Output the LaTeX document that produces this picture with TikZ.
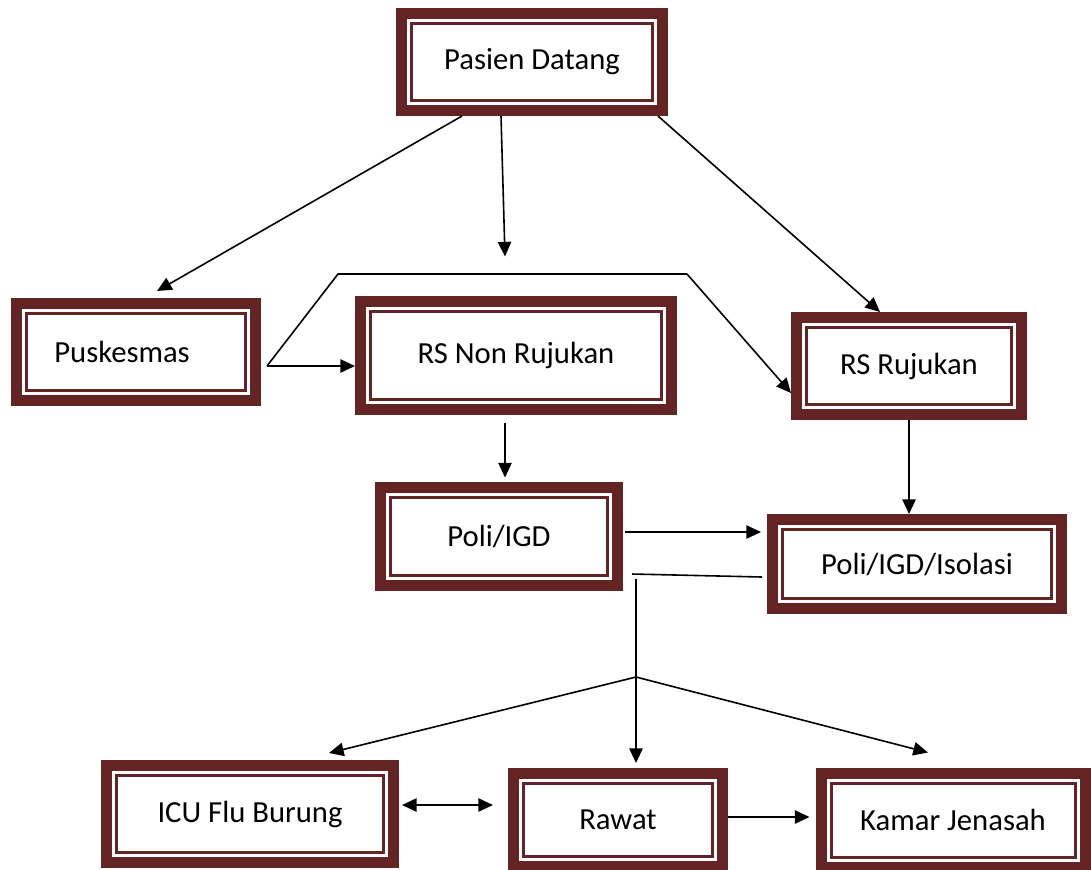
\documentclass[tikz,border=0pt]{standalone}
\usepackage{fontspec}
\setmainfont{Carlito}
\usetikzlibrary{arrows.meta}
\definecolor{framered}{RGB}{99,36,35}
\newcommand{\pxu}{0.75pt}
\tikzset{
	frame/.style={draw=framered, line width=11*\pxu, fill=white, inner sep=0pt,
		font=\fontsize{23}{27}\selectfont,
		path picture={\draw[framered, line width=3*\pxu]
			([shift={(10*\pxu,10*\pxu)}]path picture bounding box.south west) rectangle
			([shift={(-10*\pxu,-10*\pxu)}]path picture bounding box.north east);}},
	link/.style={line width=1.2pt, -{Triangle[length=11pt,width=10pt]}},
	plain/.style={line width=1.2pt}
}

\begin{document}
\begin{tikzpicture}[x=\pxu, y=-\pxu]
			%%%%% START %%%%%
			\useasboundingbox (0,0) rectangle (1091,869);
			
			\node[frame, minimum width=261*\pxu, minimum height=97*\pxu] (pasien) at (532,62) {Pasien Datang};
			\node[frame, minimum width=239*\pxu, minimum height=97*\pxu] (pusk) at (136,352) {Puskesmas\hspace*{21pt}};
			\node[frame, minimum width=311*\pxu, minimum height=108*\pxu] (rsnon) at (516,355) {RS Non Rujukan};
			\node[frame, minimum width=225*\pxu, minimum height=97*\pxu] (rsruj) at (909,366) {RS Rujukan};
			\node[frame, minimum width=237*\pxu, minimum height=98*\pxu] (poli) at (499,536) {Poli/IGD};
			\node[frame, minimum width=289*\pxu, minimum height=89*\pxu] (isolasi) at (917,564) {Poli/IGD/Isolasi};
			\node[frame, minimum width=287*\pxu, minimum height=97*\pxu] (icu) at (250,814) {ICU Flu Burung};
			\node[frame, minimum width=209*\pxu, minimum height=93*\pxu] (rawat) at (618,820) {Rawat};
			\node[frame, minimum width=264*\pxu, minimum height=94*\pxu] (kamar) at (953,820) {Kamar Jenasah};
			
			% from Pasien Datang
			\draw[link] ([shift={(-70,0)}]pasien.south) -- ([shift={(21,-7)}]pusk.north);
			\draw[link] ([shift={(-31,0)}]pasien.south) -- ([shift={(-11,-39)}]rsnon.north);
			\draw[link] ([shift={(126,0)}]pasien.south) -- ([shift={(-29,0)}]rsruj.north);
			
			% Puskesmas fork
			\coordinate (fork) at ([shift={(6,14)}]pusk.east);
			\coordinate (lt) at (338,274);
			\coordinate (rt) at (687,274);
			\draw[plain] (fork) -- (lt) -- (rt);
			\draw[link] (rt) -- ([shift={(0,27)}]rsruj.west);
			\draw[link] (fork) -- (fork -| rsnon.west);
			
			\draw[link] ([shift={(-11,8)}]rsnon.south) -- ([shift={(6,-4)}]poli.north);
			\draw[link] (rsruj.south) -- (rsruj.south |- isolasi.north);
			\draw[link] ([shift={(2,-4)}]poli.east) -- ([shift={(-6,-32)}]isolasi.west);
			
			% to the wards
			\coordinate (merge) at ([shift={(13,43)}]poli.east);
			\coordinate (branch) at (636,677);
			\draw[plain] ([shift={(-5,13)}]isolasi.west) -- ([shift={(-4,-5)}]merge);
			\draw[link] (merge) -- ([shift={(18,-5)}]rawat.north);
			\draw[link] (branch) -- ([shift={(79,-7)}]icu.north);
			\draw[link] (branch) -- ([shift={(-25,-15)}]kamar.north);
			
			\draw[link, {Triangle[length=11pt,width=10pt]}-{Triangle[length=11pt,width=10pt]}] ([shift={(3,-9)}]icu.east) -- ([shift={(-15,-15)}]rawat.west);
			\draw[link] ([shift={(0,-3)}]rawat.east) -- ([shift={(-6,-3)}]kamar.west);
			
			%%%%% END %%%%%
\end{tikzpicture}
\end{document}
